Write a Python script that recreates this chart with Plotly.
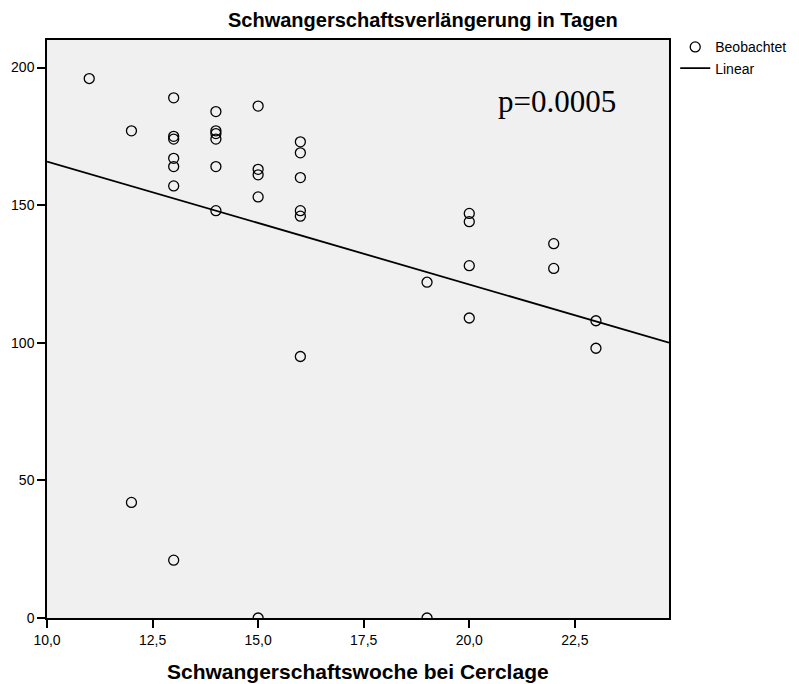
import numpy as np
import plotly.graph_objects as go

# Gestational week at cerclage and prolongation of pregnancy (days)
woche = [11,
         12, 12,
         13, 13, 13, 13, 13, 13, 13,
         14, 14, 14, 14, 14, 14,
         15, 15, 15, 15, 15,
         16, 16, 16, 16, 16, 16,
         19, 19,
         20, 20, 20, 20,
         22, 22,
         23, 23]
tage = [196,
        177, 42,
        189, 175, 174, 167, 164, 157, 21,
        184, 177, 176, 174, 164, 148,
        186, 163, 161, 153, 0,
        173, 169, 160, 148, 146, 95,
        122, 0,
        147, 144, 128, 109,
        136, 127,
        108, 98]

x_range = [10, 24.73]
y_range = [0, 210]
x_ticks = [10, 12.5, 15, 17.5, 20, 22.5]
x_ticklabels = ["10,0", "12,5", "15,0", "17,5", "20,0", "22,5"]
y_ticks = [0, 50, 100, 150, 200]
p_text = "p=0.0005"

# least-squares fit across the full axis range
slope, intercept = np.polyfit(woche, tage, 1)
fit_x = np.array(x_range)
fit_y = intercept + slope * fit_x

fig = go.Figure()
fig.add_trace(go.Scatter(
    x=woche, y=tage, mode="markers", name="Beobachtet",
    marker=dict(symbol="circle-open", size=10, color="black",
                line=dict(width=1.3, color="black")),
    cliponaxis=True,
))
fig.add_trace(go.Scatter(
    x=fit_x, y=fit_y, mode="lines", name="Linear",
    line=dict(color="black", width=1.8),
))

axis_common = dict(
    showgrid=False, zeroline=False, showline=True, linecolor="black",
    linewidth=1.5, mirror=True, ticks="outside", ticklen=8,
    tickwidth=1.5, tickcolor="black",
    tickfont=dict(family="Liberation Sans, Arial", size=14, color="black"),
)

fig.update_xaxes(range=x_range, tickvals=x_ticks, ticktext=x_ticklabels,
                 **axis_common)
fig.update_yaxes(range=y_range, tickvals=y_ticks, **axis_common)

bold_font = dict(family="Liberation Sans, Arial", size=20, color="black")

fig.add_annotation(
    text="<b>Schwangerschaftsverlängerung in Tagen</b>",
    xref="paper", yref="paper", x=0.604, y=1.0, yshift=20,
    xanchor="center", yanchor="middle", showarrow=False,
    font=bold_font,
)
fig.add_annotation(
    text="<b>Schwangerschaftswoche bei Cerclage</b>",
    xref="paper", yref="paper", x=0.5, y=0.0, yshift=-53,
    xanchor="center", yanchor="middle", showarrow=False,
    font=dict(bold_font, size=21),
)
fig.add_annotation(
    text=p_text, xref="paper", yref="paper", x=0.722, y=0.893,
    xanchor="left", yanchor="middle", showarrow=False,
    font=dict(family="Liberation Serif, Times New Roman", size=31, color="black"),
)

fig.update_layout(
    width=799, height=684,
    margin=dict(l=47, r=130, t=40, b=66, autoexpand=False),
    paper_bgcolor="white", plot_bgcolor="#F0F0F0",
    showlegend=True,
    legend=dict(x=1.01, y=1.015, xanchor="left", yanchor="top",
                bgcolor="rgba(0,0,0,0)", itemwidth=30, tracegroupgap=0,
                font=dict(family="Liberation Sans, Arial", size=14, color="black")),
)

fig.write_html("out.html")
